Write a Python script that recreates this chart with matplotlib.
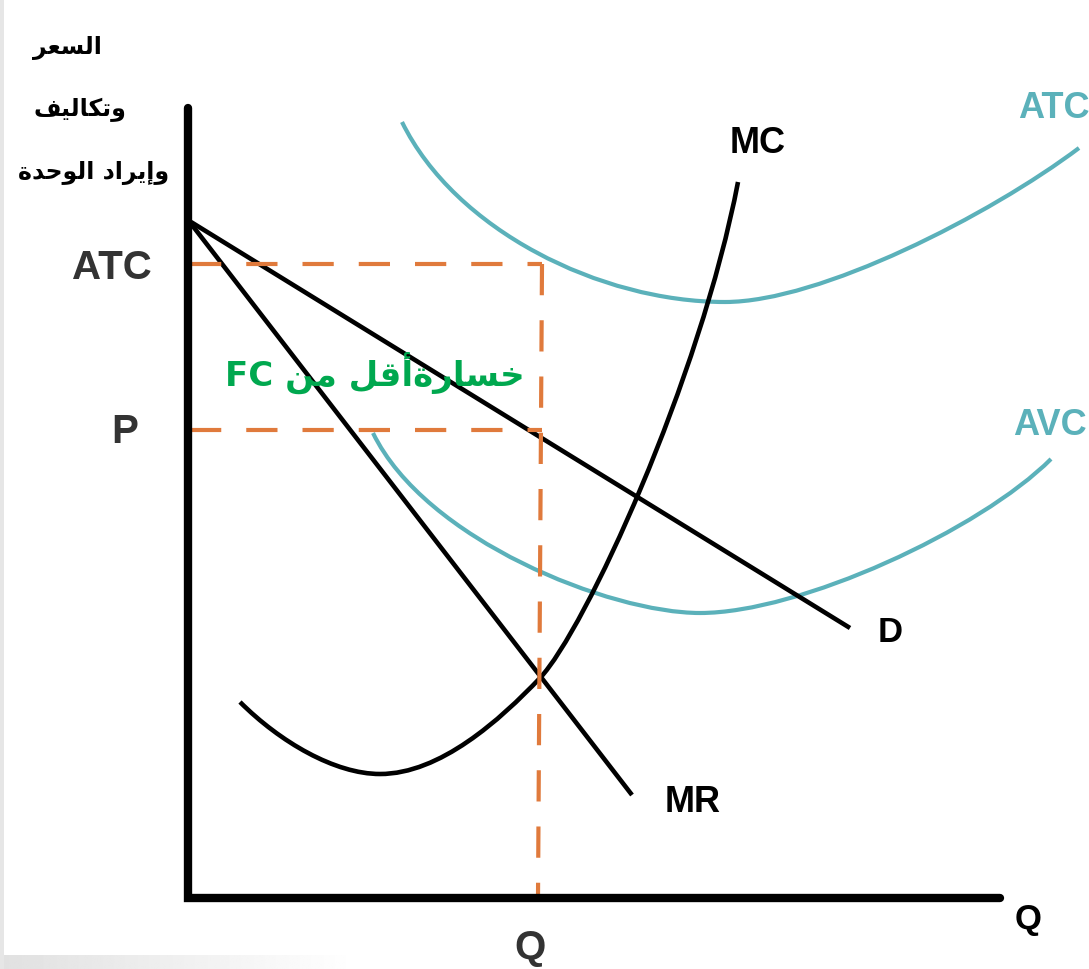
import re
import matplotlib
matplotlib.use("Agg")
import matplotlib.pyplot as plt
from matplotlib.path import Path
from matplotlib.patches import PathPatch, Rectangle
import numpy as np

# ---------------- data (quantity q, price p; origin at axes corner) ----------------
axis_top = 790
axis_right = 812

demand_q = [3, 662]
demand_p = [676, 270]

mr_q = [4, 444]
mr_p = [673, 103]

# cubic Bezier control points (start, c1, c2, end, c1, c2, end, ...)
mc_q = [52, 92, 147, 192, 252, 312, 352, 397, 512, 550]
mc_p = [196, 156, 124, 124, 124, 178, 220, 268, 518, 716]

atc_q = [214, 267, 412, 537, 632, 802, 891]
atc_p = [776, 668, 596, 596, 596, 683, 750]

avc_q = [185, 237, 422, 512, 612, 792, 863]
avc_p = [465, 358, 285, 285, 285, 368, 439]

atc_level = 634
price_level = 468
q_star_top = 354
q_star_bottom = 350
dash_start = 2

y_axis_title = ["السعر", "وتكاليف", "وإيراد الوحدة"]
loss_text = "خسارةأقل من FC"

# ---------------- simple Arabic shaping ----------------
FORMS = {
    'ا': ('\uFE8D', '\uFE8E', None, None),
    'أ': ('\uFE83', '\uFE84', None, None),
    'إ': ('\uFE87', '\uFE88', None, None),
    'ة': ('\uFE93', '\uFE94', None, None),
    'د': ('\uFEA9', '\uFEAA', None, None),
    'ر': ('\uFEAD', '\uFEAE', None, None),
    'و': ('\uFEED', '\uFEEE', None, None),
    'ت': ('\uFE95', '\uFE96', '\uFE97', '\uFE98'),
    'ح': ('\uFEA1', '\uFEA2', '\uFEA3', '\uFEA4'),
    'خ': ('\uFEA5', '\uFEA6', '\uFEA7', '\uFEA8'),
    'س': ('\uFEB1', '\uFEB2', '\uFEB3', '\uFEB4'),
    'ع': ('\uFEC9', '\uFECA', '\uFECB', '\uFECC'),
    'ف': ('\uFED1', '\uFED2', '\uFED3', '\uFED4'),
    'ق': ('\uFED5', '\uFED6', '\uFED7', '\uFED8'),
    'ك': ('\uFED9', '\uFEDA', '\uFEDB', '\uFEDC'),
    'ل': ('\uFEDD', '\uFEDE', '\uFEDF', '\uFEE0'),
    'م': ('\uFEE1', '\uFEE2', '\uFEE3', '\uFEE4'),
    'ن': ('\uFEE5', '\uFEE6', '\uFEE7', '\uFEE8'),
    'ي': ('\uFEF1', '\uFEF2', '\uFEF3', '\uFEF4'),
}


def shape_ar(s):
    out = []
    for i, ch in enumerate(s):
        if ch not in FORMS:
            out.append(ch)
            continue
        prev = s[i - 1] if i > 0 else None
        nxt = s[i + 1] if i + 1 < len(s) else None
        jp = prev in FORMS and FORMS[prev][2] is not None
        jn = nxt in FORMS and FORMS[ch][2] is not None
        iso, fin, ini, med = FORMS[ch]
        if jp and jn:
            out.append(med)
        elif jp:
            out.append(fin)
        elif jn:
            out.append(ini)
        else:
            out.append(iso)
    return ''.join(out)


def visual(s):
    runs = re.findall(r'[A-Za-z0-9]+|[^A-Za-z0-9]+', s)
    vis = []
    for r in runs:
        if re.match(r'[A-Za-z0-9]', r):
            vis.append(r)
        else:
            vis.append(shape_ar(r)[::-1])
    return ''.join(vis[::-1])


def bezier_path(qs, ps):
    verts = list(zip(qs, ps))
    codes = [Path.MOVETO] + [Path.CURVE4] * (len(verts) - 1)
    return Path(verts, codes)


# ---------------- figure ----------------
fig = plt.figure(figsize=(10.89, 9.69), dpi=100)
ax = fig.add_axes([0, 0, 1, 1])
ax.set_xlim(-188, 901)
ax.set_ylim(-71, 898)
ax.axis('off')

# faint gray border at left / bottom-left
grad = np.linspace(0.88, 1.0, 256).reshape(1, -1)
ax.imshow(grad, extent=[-188, 170, -71, -57], cmap='gray', vmin=0, vmax=1,
          aspect='auto', zorder=0)
ax.add_patch(Rectangle((-188, -71), 4, 969, color='#e6e6e6', lw=0, zorder=0))

teal = '#5BB1BA'
orange = '#E07A3C'
dark = '#333333'

# curves
for qs, ps in [(atc_q, atc_p), (avc_q, avc_p)]:
    ax.add_patch(PathPatch(bezier_path(qs, ps), fill=False, ec=teal, lw=3.0,
                           capstyle='butt', zorder=2))

ax.add_patch(PathPatch(bezier_path(mc_q, mc_p), fill=False, ec='black', lw=3.3,
                       capstyle='butt', zorder=3))
ax.plot(demand_q, demand_p, color='black', lw=3.3, solid_capstyle='butt', zorder=3)
ax.plot(mr_q, mr_p, color='black', lw=3.3, solid_capstyle='butt', zorder=3)

# dashed guides
dash = (0, (7.5, 6))
ax.plot([dash_start, q_star_top], [atc_level, atc_level], color=orange, lw=3,
        linestyle=dash, zorder=4)
ax.plot([dash_start, q_star_top], [price_level, price_level], color=orange, lw=3,
        linestyle=dash, zorder=4)
ax.plot([q_star_top, q_star_bottom], [atc_level, 0], color=orange, lw=3,
        linestyle=dash, zorder=4)

# axes
ax.plot([0, 0, axis_right], [axis_top, 0, 0], color='black', lw=6,
        solid_joinstyle='miter', solid_capstyle='round', zorder=5)

# labels
lab = dict(fontfamily='Liberation Sans', fontweight='bold')
ax.text(-76, 630, 'ATC', color=dark, fontsize=29, ha='center', va='center', **lab)
ax.text(-63, 466, 'P', color=dark, fontsize=29, ha='center', va='center', **lab)
ax.text(342, -50, 'Q', color=dark, fontsize=29, ha='center', va='center', **lab)
ax.text(840, -22, 'Q', color='black', fontsize=25, ha='center', va='center', **lab)
ax.text(570, 755, 'MC', color='black', fontsize=26, ha='center', va='center', **lab)
ax.text(702, 265, 'D', color='black', fontsize=25, ha='center', va='center', **lab)
ax.text(505, 95, 'MR', color='black', fontsize=26, ha='center', va='center', **lab)
ax.text(830, 790, 'ATC', color=teal, fontsize=26, ha='left', va='center', **lab)
ax.text(825, 473, 'AVC', color=teal, fontsize=26, ha='left', va='center', **lab)

ax.text(187, 525, visual(loss_text), color='#00A84F', fontsize=24.5,
        fontweight='bold', family=['DejaVu Sans'], ha='center', va='center', zorder=6)

for (qq, pp), t in zip([(-121, 850), (-108, 788), (-94, 725)], y_axis_title):
    ax.text(qq, pp, visual(t), color='black', fontsize=17, fontweight='bold',
            family=['DejaVu Sans'], ha='center', va='center')

fig.savefig('out.png', dpi=100)
